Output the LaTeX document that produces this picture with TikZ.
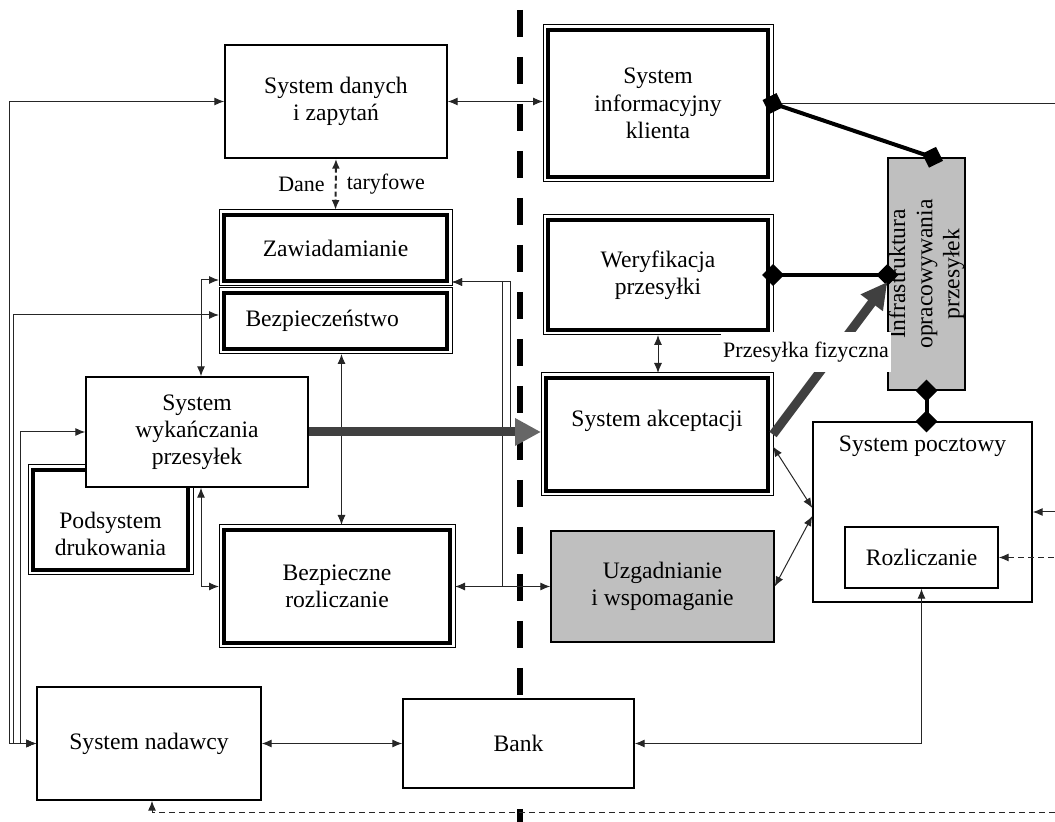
\documentclass[tikz,border=0pt]{standalone}
\usepackage{fontspec}
\setmainfont{Liberation Serif}
\usetikzlibrary{arrows.meta,positioning,calc}
\newcommand{\bxfont}{\fontsize{11.8}{13.6}\selectfont}
\newcommand{\lbfont}{\fontsize{11}{13}\selectfont}

\begin{document}
\begin{tikzpicture}[
    x=0.5pt, y=-0.5pt,
    >={Latex[length=5pt,width=4pt]},
    box/.style={draw, line width=0.7pt, fill=white, align=center,
                font=\bxfont, inner sep=2pt},
    dbox/.style={box, line width=2pt, outer sep=2.6pt},
    gbox/.style={box, fill=black!25},
    frame/.style={draw, line width=0.5pt},
    link/.style={line width=0.5pt, black!85},
    dlink/.style={link, dash pattern=on 3pt off 2pt},
    flow/.style={line width=4.5pt, black!75,
                 -{Triangle[length=13pt,width=13pt,color=black!60]}},
    tie/.style={line width=2pt,
                {Diamond[length=11pt,width=11pt]}-{Diamond[length=11pt,width=11pt]},
                shorten <=-5.5pt, shorten >=-5.5pt},
    lbl/.style={font=\lbfont, text=black, inner sep=1pt},
    divider/.style={line width=3pt, dash pattern=on 13.5pt off 10pt}]
  \useasboundingbox (0,0) rectangle (1055,822);
  % dividing line
  \draw[divider] (520,10) -- (520,822);
  \coordinate (rim) at (1055,0);
  \coordinate (rimb) at (1055,813);

  % left side
  \node[box, minimum width=111pt, minimum height=56.5pt] (danych) at (336,101.5) {System danych\\ i zapytań};
  \node[dbox, minimum width=111.3pt, minimum height=32.8pt] (zaw) at (335.5,248) {Zawiadamianie};
  \node[dbox, minimum width=111.3pt, minimum height=27.8pt, text width=90pt, align=left] (bez) at (335.5,321) {Bezpieczeństwo};
  \node[dbox, minimum width=77.3pt, minimum height=49.8pt] (pod) at (110.5,520) {\rule{0pt}{22pt}Podsystem\\ drukowania};
  \node[dbox, minimum width=112.8pt, minimum height=56.3pt] (brozl) at (337,586.5) {Bezpieczne\\ rozliczanie};
  \node[box, minimum width=112pt, minimum height=56.5pt] (nad) at (149,743.5) {System nadawcy};
  \node[box, minimum width=115.5pt, minimum height=44.5pt] (bank) at (518.5,743.5) {Bank};

  % right side
  \node[dbox, minimum width=109.8pt, minimum height=73.3pt] (info) at (658,103.5) {System\\ informacyjny\\ klienta};
  \node[dbox, minimum width=109.8pt, minimum height=54.8pt] (wer) at (658,275) {Weryfikacja\\ przesyłki};
  \node[dbox, minimum width=110.8pt, minimum height=56.3pt, text depth=15.7pt] (akc) at (657,434.5) {System akceptacji};
  \node[gbox, minimum width=111.5pt, minimum height=55.5pt] (uzg) at (662.5,586.5) {Uzgadnianie\\ i wspomaganie};
  \node[gbox, rotate=90, minimum width=116pt, minimum height=38.5pt, inner sep=0pt] (infra) at (926.5,274) {Infrastruktura\\ opracowywania\\ przesyłek};
  \node[box, minimum width=109.5pt, minimum height=90pt, inner ysep=0pt, text height=15pt, text depth=75pt] (post) at (922.5,512) {System pocztowy};
  \node[box, minimum width=76.5pt, minimum height=30.5pt] (rozl) at (921.5,557.5) {Rozliczanie};

  % outer frames of the double boxes
  \foreach \n in {zaw,bez,pod,brozl,info,wer,akc}{
    \draw[frame] (\n.south west) rectangle (\n.north east);
  }
  \node[box, minimum width=111pt, minimum height=55pt] (wyk) at (197,432) {System\\ wykańczania\\ przesyłek};

  % bus from the sender system
  \draw[link,<->] (danych.west) -| ([xshift=-13.5pt]nad.west) -- (nad.west);
  \draw[link,<->] ([yshift=3pt]bez.west) -| ([xshift=-11.5pt]nad.west) -- (nad.west);
  \draw[link,<->] (wyk.west) -| ([xshift=-8pt]nad.west) -- (nad.west);

  \draw[link,<->] (danych.east) -- (danych.east -| info.west);
  \draw[link,<->, line width=1pt, dash pattern=on 2.5pt off 1.5pt] (danych.south) -- (zaw.north)
    node[lbl, midway, left=4pt] (dane) {Dane}
    node[lbl, midway, right=4pt] (taryf) {taryfowe};
  \draw[link,<->] ([xshift=2pt]wyk.north) |- ([yshift=-16pt]zaw.west);
  \draw[link,<->] ([xshift=2pt]wyk.south) |- (brozl.west);
  \draw[link,<->] ([xshift=3pt]bez.south) -- ([xshift=3pt]bez.south |- brozl.north);
  \draw[link,<-] ([yshift=-17pt]zaw.east) -| ([xshift=-15.5pt]akc.west);
  \draw[link,<-] ([yshift=-17pt]zaw.east) -| ([xshift=-24pt]uzg.west);
  \draw[link,<->] (brozl.east) -- (brozl.east -| uzg.west);
  \draw[flow] (wyk.east) -- (wyk.east -| akc.west);

  \draw[link,<->] (wer.south) -- (wer.south |- akc.north);
  \draw[link,<->] ([yshift=-6pt]akc.east) -- ([yshift=2pt]post.west);
  \draw[link,<->] (uzg.east) -- ([yshift=-2pt]post.west);
  \draw[link,<->] (nad.east) -- (nad.east -| bank.west);
  \draw[link,<->] (bank.east) -| (rozl.south);
  \draw[link,<-] (post.east) -- (post.east -| rim);
  \draw[dlink,<-] (rozl.east) -- (rozl.east -| rim);
  \draw[link] (info.east) -- (info.east -| rim);
  \draw[dlink,<-] ([xshift=1.5pt]nad.south) |- (rimb);

  % ties to the infrastructure block
  \draw[tie] (info.east) -- ([xshift=3pt]infra.east);
  \draw[tie] (wer.east) -- (wer.east -| infra.north);
  \draw[tie] (infra.west) -- (infra.west |- post.north);
  \draw[flow, -{Triangle[length=13pt,width=13pt,color=black!75]}] (akc.east) -- ([yshift=-4pt]infra.north);
  \node[lbl, fill=white, inner ysep=5pt] (fiz) at (806,352) {Przesyłka fizyczna};
\end{tikzpicture}
\end{document}
